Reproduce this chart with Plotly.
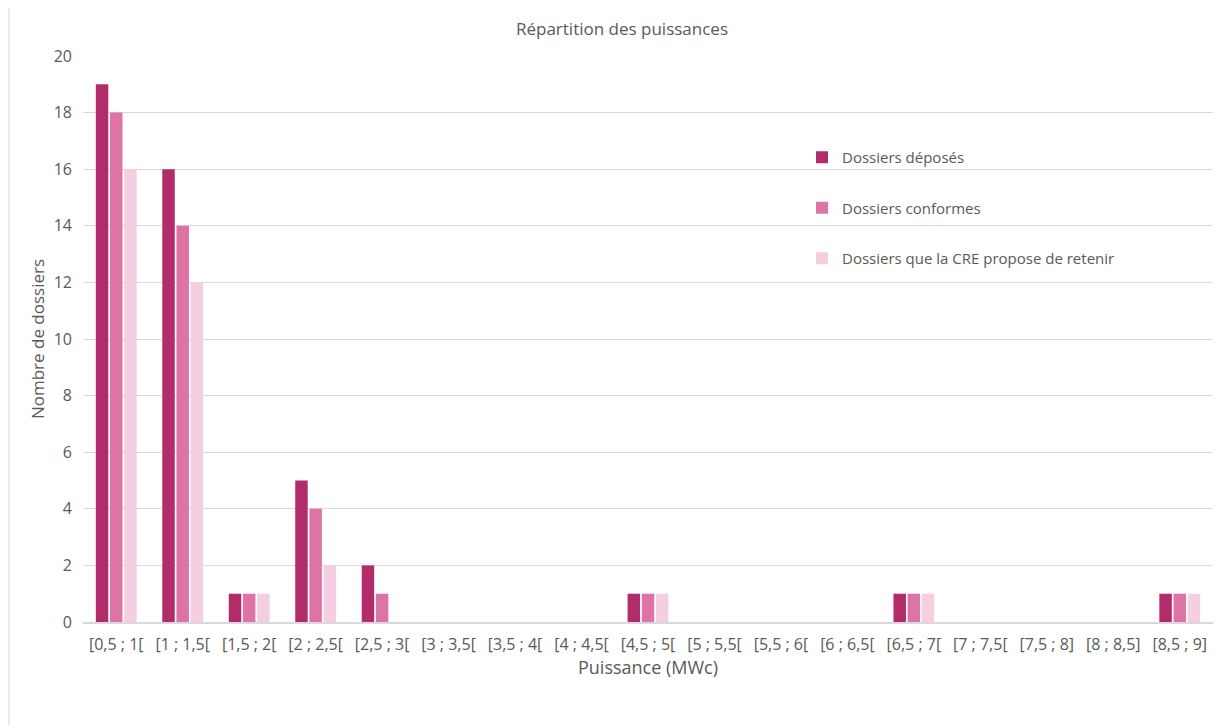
import plotly.graph_objects as go

categories = ["[0,5 ; 1[", "[1 ; 1,5[", "[1,5 ; 2[", "[2 ; 2,5[", "[2,5 ; 3[", "[3 ; 3,5[",
              "[3,5 ; 4[", "[4 ; 4,5[", "[4,5 ; 5[", "[5 ; 5,5[", "[5,5 ; 6[", "[6 ; 6,5[",
              "[6,5 ; 7[", "[7 ; 7,5[", "[7,5 ; 8]", "[8 ; 8,5]", "[8,5 ; 9]"]
deposes = [19, 16, 1, 5, 2, 0, 0, 0, 1, 0, 0, 0, 1, 0, 0, 0, 1]
conformes = [18, 14, 1, 4, 1, 0, 0, 0, 1, 0, 0, 0, 1, 0, 0, 0, 1]
retenus = [16, 12, 1, 2, 0, 0, 0, 0, 1, 0, 0, 0, 1, 0, 0, 0, 1]

series = [
    ("Dossiers déposés", deposes, "#B22C6C"),
    ("Dossiers conformes", conformes, "#DE74A6"),
    ("Dossiers que la CRE propose de retenir", retenus, "#F5CFE1"),
]

FONT = "Open Sans"
GREY = "#595959"

W, H = 1223, 717
L, R, T, B = 75, 18, 48, 103
PW, PH = W - L - R, H - T - B

fig = go.Figure()
for i, (name, vals, col) in enumerate(series):
    fig.add_trace(go.Bar(x=categories, y=vals, name=name, marker_color=col,
                         marker_line_width=0, legendgroup=str(i)))

fig.update_layout(
    width=W, height=H,
    margin=dict(l=L, r=R, t=T, b=B),
    paper_bgcolor="white", plot_bgcolor="white",
    font=dict(family=FONT, size=15, color=GREY),
    barmode="group", bargap=0.36, bargroupgap=0.12,
    title=dict(text="Répartition des puissances", x=614 / W, xanchor="center",
               y=1 - 21 / H, yanchor="middle", font=dict(size=17, color=GREY)),
    legend=dict(x=(794 - L) / PW, y=(614 - 133) / PH, xanchor="left", yanchor="top",
                tracegroupgap=28, font=dict(size=15, color=GREY),
                bgcolor="rgba(0,0,0,0)"),
    xaxis=dict(title=dict(text="Puissance (MWc)", font=dict(size=18, color=GREY), standoff=6),
               tickfont=dict(size=16, color=GREY), showline=True, linecolor="#D9D9D9",
               linewidth=1.5, ticks="", ticklabelstandoff=7),
    yaxis=dict(title=dict(text="Nombre de dossiers", font=dict(size=17, color=GREY), standoff=4),
               range=[0, 20], dtick=2, gridcolor="#D9D9D9", gridwidth=1,
               tickfont=dict(size=16, color=GREY), zeroline=False, showline=False,
               ticklabelstandoff=10),
    shapes=[dict(type="rect", xref="paper", yref="paper",
                 x0=(1 - L) / PW, x1=(1300 - L) / PW,
                 y0=-0.4, y1=(614 + 1) / PH,
                 line=dict(color="#D9D9D9", width=1), layer="below")],
)

fig.write_html("out.html")
